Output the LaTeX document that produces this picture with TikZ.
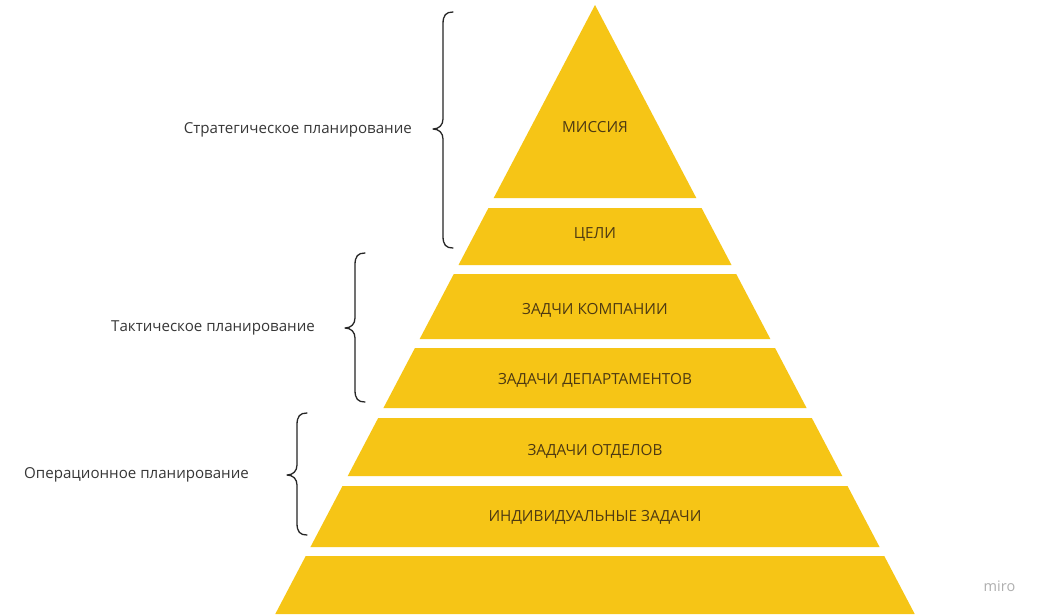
\documentclass[tikz,border=0pt]{standalone}
\usepackage{fontspec}
\setmainfont{Open Sans}
\definecolor{pyr}{RGB}{246,197,22}
\definecolor{pyrtext}{RGB}{78,58,18}
\definecolor{lbltext}{RGB}{55,55,55}
\definecolor{miroc}{RGB}{175,175,175}
\newcommand{\pyrband}[3]{% #1 top y, #2 bottom y, #3 name
  \pgfmathsetmacro{\dt}{0.525*(#1-5)}%
  \pgfmathsetmacro{\db}{0.525*(#2-5)}%
  \fill[pyr] (595-\dt,#1) coordinate (#3tl) -- (595+\dt,#1) coordinate (#3tr)
     -- (595+\db,#2) coordinate (#3br) -- (595-\db,#2) coordinate (#3bl) -- cycle;}
\newcommand{\curlybr}[4]{% #1 vertical x, #2 top y, #3 bottom y, #4 middle y
  \draw[bracestyle] (#1+10,#2) .. controls (#1+3,#2) and (#1,#2+3) .. (#1,#2+12)
    -- (#1,#4-10) .. controls (#1,#4-4) and (#1-4,#4) .. (#1-10,#4)
    .. controls (#1-4,#4) and (#1,#4+4) .. (#1,#4+10)
    -- (#1,#3-12) .. controls (#1,#3-3) and (#1+3,#3) .. (#1+10,#3);}
\begin{document}
\begin{tikzpicture}[x=1pt,y=-1pt,
  bandtext/.style={text=pyrtext,font=\fontsize{15.3}{17}\selectfont,inner sep=0pt,anchor=center},
  lbl/.style={text=lbltext,font=\fontsize{15.1}{17}\selectfont,inner sep=0pt,anchor=east},
  bracestyle/.style={draw=black!85,line width=1.3pt,line cap=round,line join=round}]
\useasboundingbox (0,0) rectangle (1040,614);
\fill[white] (0,0) rectangle (1040,614);
% pyramid
\fill[pyr] (595,5) coordinate (apex) -- (696.3,198) -- (493.7,198) -- cycle;
\pyrband{208}{265}{b2}
\pyrband{274}{339}{b3}
\pyrband{348}{408}{b4}
\pyrband{418}{476}{b5}
\pyrband{486}{547}{b6}
\pyrband{556}{614}{b7}
% band texts
\node[bandtext] (mission) at (595,127) {МИССИЯ};
\node[bandtext] (goals) at (595,234.5) {ЦЕЛИ};
\node[bandtext] (company) at (595,310) {ЗАДЧИ КОМПАНИИ};
\node[bandtext] (depts) at (595,380.5) {ЗАДАЧИ ДЕПАРТАМЕНТОВ};
\node[bandtext] (divs) at (595,451.5) {ЗАДАЧИ ОТДЕЛОВ};
\node[bandtext] (indiv) at (595,517.5) {ИНДИВИДУАЛЬНЫЕ ЗАДАЧИ};
% braces
\curlybr{443}{12}{248}{129}
\curlybr{355}{253}{402}{328}
\curlybr{297}{413}{535}{475}
% labels
\node[lbl] (strat) at (412,129.5) {Стратегическое планирование};
\node[lbl] (tact) at (315,327.5) {Тактическое планирование};
\node[lbl] (oper) at (249,474.5) {Операционное планирование};
% watermark
\node[text=miroc,font=\fontsize{14.5}{16}\selectfont,inner sep=0pt] (miro) at (999.5,586) {miro};
\end{tikzpicture}
\end{document}
